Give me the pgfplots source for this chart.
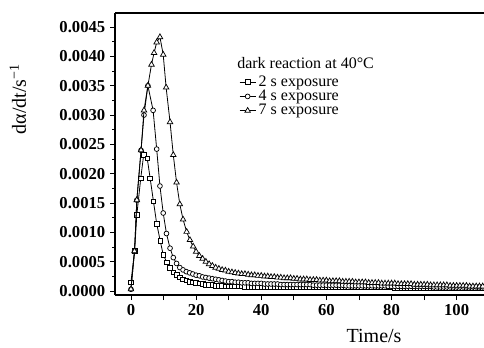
\documentclass[border=0pt]{standalone}
\usepackage{pgfplots}
\pgfplotsset{compat=1.18}
\usepackage{fontspec}
\setmainfont{Liberation Serif}
\usetikzlibrary{calc}
\begin{document}
\begin{tikzpicture}
\begin{axis}[
 name=ax,
 scale only axis, width=276.75pt, height=211.5pt,
 xmin=-4.9, xmax=108.4, ymin=-0.000068, ymax=0.00474,
 axis x line*=box, axis y line*=left,
 xtick pos=left, ytick pos=left,
 clip mode=individual,
 axis line style={line width=0.8pt},
 tick align=outside, major tick length=3.75pt, minor tick length=2.25pt,
 every tick/.style={black, line width=0.6pt},
 xtick={0,10,20,30,40,50,60,70,80,90,100},
 xticklabels={0,,20,,40,,60,,80,,100},
 ytick={0,0.0005,0.001,0.0015,0.002,0.0025,0.003,0.0035,0.004,0.0045},
 minor y tick num=1,
 scaled y ticks=false,
 yticklabel style={/pgf/number format/.cd, fixed, fixed zerofill, precision=4, assume math mode=true},
 tick label style={font=\fontsize{12.5}{14}\selectfont\bfseries},
 ylabel={dα/dt/s\textsuperscript{−1}},
 ylabel style={at={(axis description cs:-0.263,0.695)}, anchor=center, font=\fontsize{15}{18}\selectfont},
 xlabel={Time/s},
 xlabel style={at={(axis description cs:0.702,-0.147)}, anchor=center, font=\fontsize{15}{18}\selectfont},
 legend style={at={(axis description cs:0.336,0.781)}, anchor=north west, draw=none, fill=none,
   font=\fontsize{12}{12}\selectfont, inner sep=0pt, column sep=2pt,
   nodes={inner sep=0pt, text height=8.3pt, text depth=2.4pt}},
 legend cell align=left,
 legend image code/.code={\draw[mark repeat=2,mark phase=2,#1] plot coordinates {(0pt,0pt) (6pt,0pt) (12pt,0pt)};},
]
\addplot[black, line width=0.6pt, mark=square*, mark size=1.75pt, mark options={fill=white, line width=0.55pt}] table {
x y
0 0.00015
1.1 0.00068
1.8 0.00130
3.0 0.00192
3.9 0.00232
5.0 0.00226
5.9 0.00192
6.9 0.00153
7.9 0.00115
9.0 0.00085
9.9 0.00062
11.0 0.00049
12.0 0.00039
13.0 0.00032
14 0.00027
15 0.00023
16 0.00020
17 0.00018
18 0.00016
19 0.00015
20 0.00014
21 0.00013
22 0.00012
23 0.00011
24 0.00010
25 0.00010
26 0.00009
27 0.00009
28 0.00009
29 0.00008
30 0.00008
31 0.00008
32 0.00008
33 0.00008
34 0.00008
35 0.00007
36 0.00007
37 0.00007
38 0.00007
39 0.00007
40 0.00007
41 0.00007
42 0.00007
43 0.00007
44 0.00007
45 0.00007
46 0.00007
47 0.00007
48 0.00007
49 0.00007
50 0.00007
51 0.00006
52 0.00006
53 0.00006
54 0.00006
55 0.00006
56 0.00006
57 0.00006
58 0.00006
59 0.00006
60 0.00006
61 0.00006
62 0.00006
63 0.00006
64 0.00006
65 0.00006
66 0.00006
67 0.00006
68 0.00006
69 0.00006
70 0.00006
71 0.00006
72 0.00006
73 0.00006
74 0.00006
75 0.00006
76 0.00006
77 0.00006
78 0.00006
79 0.00006
80 0.00006
81 0.00005
82 0.00005
83 0.00005
84 0.00005
85 0.00005
86 0.00005
87 0.00005
88 0.00005
89 0.00005
90 0.00005
91 0.00005
92 0.00005
93 0.00005
94 0.00005
95 0.00005
96 0.00005
97 0.00005
98 0.00005
99 0.00005
100 0.00005
101 0.00005
102 0.00005
103 0.00005
104 0.00005
105 0.00005
106 0.00005
107 0.00005
108 0.00005
};
\addlegendentry{2 s exposure}
\addplot[black, line width=0.6pt, mark=*, mark size=1.8pt, mark options={fill=white, line width=0.55pt}] table {
x y
0 0.00003
1.1 0.00068
1.8 0.00155
3.1 0.00240
4.0 0.00300
5.2 0.00350
6.8 0.00308
7.9 0.00242
8.9 0.00179
9.9 0.00133
10.9 0.00098
12.0 0.00073
13.0 0.00057
14.0 0.00047
15 0.00040
16 0.00036
17 0.00033
18 0.00031
19 0.00029
20 0.00027
21 0.00026
22 0.00024
23 0.00023
24 0.00022
25 0.00021
26 0.00020
27 0.00019
28 0.00018
29 0.00017
30 0.00016
31 0.00016
32 0.00015
33 0.00015
34 0.00014
35 0.00014
36 0.00014
37 0.00013
38 0.00013
39 0.00013
40 0.00013
41 0.00012
42 0.00012
43 0.00012
44 0.00012
45 0.00012
46 0.00011
47 0.00011
48 0.00011
49 0.00011
50 0.00011
51 0.00011
52 0.00011
53 0.00011
54 0.00011
55 0.00011
56 0.00010
57 0.00010
58 0.00010
59 0.00010
60 0.00010
61 0.00010
62 0.00010
63 0.00010
64 0.00010
65 0.00010
66 0.00009
67 0.00009
68 0.00009
69 0.00009
70 0.00009
71 0.00009
72 0.00009
73 0.00009
74 0.00009
75 0.00009
76 0.00009
77 0.00009
78 0.00009
79 0.00008
80 0.00008
81 0.00008
82 0.00008
83 0.00008
84 0.00008
85 0.00008
86 0.00008
87 0.00008
88 0.00008
89 0.00008
90 0.00008
91 0.00008
92 0.00008
93 0.00007
94 0.00007
95 0.00007
96 0.00007
97 0.00007
98 0.00007
99 0.00007
100 0.00007
101 0.00007
102 0.00007
103 0.00007
104 0.00007
105 0.00007
106 0.00007
107 0.00007
108 0.00007
};
\addlegendentry{4 s exposure}
\addplot[black, line width=0.6pt, mark=triangle*, mark size=2.4pt, mark options={fill=white, line width=0.55pt}] table {
x y
0 0.00003
1.1 0.00068
1.8 0.00155
3.1 0.00240
4.0 0.00308
5.2 0.00350
6.3 0.00386
7.1 0.00406
7.9 0.00424
8.9 0.00433
9.9 0.00403
10.8 0.00347
12.0 0.00288
13.0 0.00232
14.0 0.00185
15.0 0.00148
16.0 0.00122
17.1 0.00101
18.1 0.00087
19.1 0.00076
20 0.00067
21 0.00060
22 0.00055
23 0.00050
24 0.00046
25 0.00043
26 0.00040
27 0.00038
28 0.00036
29 0.00035
30 0.00033
31 0.00032
32 0.00031
33 0.00030
34 0.00029
35 0.00029
36 0.00028
37 0.00027
38 0.00027
39 0.00026
40 0.00026
41 0.00025
42 0.00025
43 0.00024
44 0.00024
45 0.00023
46 0.00023
47 0.00022
48 0.00022
49 0.00022
50 0.00021
51 0.00021
52 0.00020
53 0.00020
54 0.00020
55 0.00019
56 0.00019
57 0.00019
58 0.00018
59 0.00018
60 0.00018
61 0.00017
62 0.00017
63 0.00017
64 0.00017
65 0.00016
66 0.00016
67 0.00016
68 0.00016
69 0.00015
70 0.00015
71 0.00015
72 0.00015
73 0.00014
74 0.00014
75 0.00014
76 0.00014
77 0.00013
78 0.00013
79 0.00013
80 0.00013
81 0.00013
82 0.00012
83 0.00012
84 0.00012
85 0.00012
86 0.00012
87 0.00011
88 0.00011
89 0.00011
90 0.00011
91 0.00011
92 0.00010
93 0.00010
94 0.00010
95 0.00010
96 0.00010
97 0.00010
98 0.00009
99 0.00009
100 0.00009
101 0.00009
102 0.00009
103 0.00009
104 0.00008
105 0.00008
106 0.00008
107 0.00008
108 0.00008
};
\addlegendentry{7 s exposure}
\node[anchor=west, inner sep=0pt, font=\fontsize{12}{12}\selectfont] at (axis description cs:0.3306,0.823) {dark reaction at 40°C};
\end{axis}
\pgfresetboundingbox
\path ($(ax.south west)+(-86.25pt,-39pt)$) rectangle ($(ax.north east)+(0pt,9.75pt)$);
\end{tikzpicture}
\end{document}
